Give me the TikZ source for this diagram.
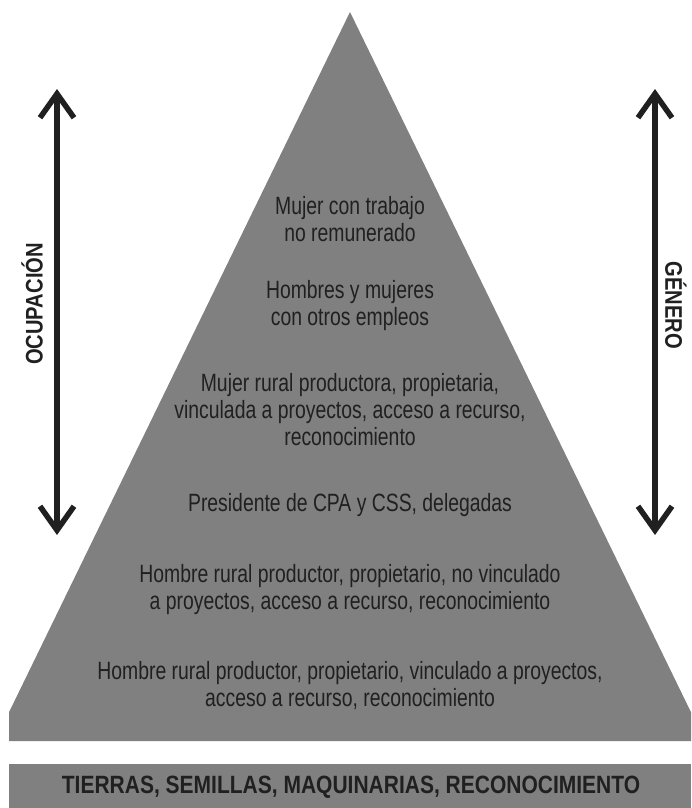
\documentclass[tikz,border=0pt]{standalone}
\usepackage{fontspec}
\usetikzlibrary{arrows.meta}
\newfontfamily\condfont{Liberation Sans}[FakeStretch=0.775]
\newfontfamily\condboldfont{Liberation Sans Bold}[FakeStretch=0.84]
\definecolor{pyrgray}{RGB}{128,128,128}
\definecolor{inkdark}{RGB}{32,32,32}

\begin{document}
\begin{tikzpicture}[x = 1pt, y = -1pt, % pixel grid of the figure
                scalearrow/.style = {draw = inkdark, line width = 5.5pt,
                    {Straight Barb[length = 24pt, width = 34pt]}-{Straight Barb[length = 24pt, width = 34pt]}},
                every node/.style = {text = inkdark, inner sep = 0pt}
            ]

            \tikzstyle{level}=[align = center, font = \condfont\fontsize{25}{27}\selectfont]
            \tikzstyle{axislabel}=[font = \condboldfont\fontsize{24}{28}\selectfont]

            \useasboundingbox (0,0) rectangle (691,808);

            % pyramid, cut at the sides
            \begin{scope}
                \clip (9,0) rectangle (691,741);
                \fill[pyrgray] (350,12) -- (-5,741) -- (705,741) -- cycle;
            \end{scope}
            \fill[pyrgray] (9,764) rectangle (691,808);

            \node[level] (t1) at (350,219) {Mujer con trabajo\\no remunerado};
            \node[level] (t2) at (350,306) {Hombres y mujeres\\con otros empleos};
            \node[level] (t3) at (350,410) {Mujer rural productora, propietaria,\\vinculada a proyectos, acceso a recurso,\\reconocimiento};
            \node[level] (t4) at (350,505) {Presidente de CPA y CSS, delegadas};
            \node[level] (t5) at (350,590) {Hombre rural productor, propietario, no vinculado\\a proyectos, acceso a recurso, reconocimiento};
            \node[level] (t6) at (350,686) {Hombre rural productor, propietario, vinculado a proyectos,\\acceso a recurso, reconocimiento};

            \node[font = \condboldfont\fontsize{25}{29}\selectfont] (base) at (351,787)
                {TIERRAS, SEMILLAS, MAQUINARIAS, RECONOCIMIENTO};

            % the two scales
            \coordinate (ocuTop) at (57,89); \coordinate (ocuBot) at (57,535);
            \coordinate (genTop) at (655,89); \coordinate (genBot) at (655,535);
            \draw[scalearrow] (ocuBot) -- (ocuTop);
            \draw[scalearrow] (genBot) -- (genTop);

            \node[axislabel, rotate = 90] (ocu) at (32,304) {OCUPACIÓN};
            \node[axislabel, rotate = -90] (gen) at (676,305) {GÉNERO};
\end{tikzpicture}
\end{document}
